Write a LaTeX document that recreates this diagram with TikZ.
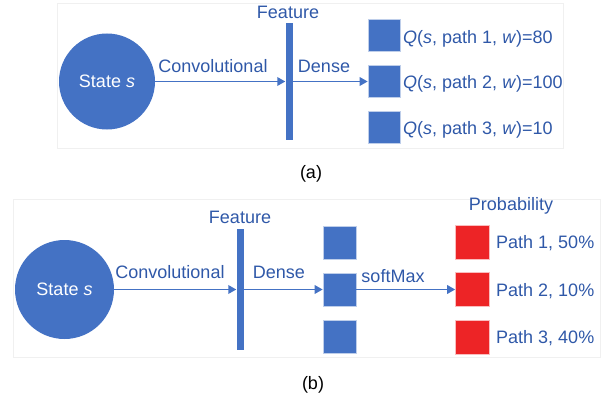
\documentclass[tikz,border=0pt]{standalone}
\usepackage{fontspec}
\setmainfont{Liberation Sans}
\usetikzlibrary{arrows.meta}

\definecolor{netblue}{RGB}{68,114,196}
\definecolor{txtblue}{RGB}{47,88,168}
\definecolor{probred}{RGB}{237,36,38}

\begin{document}
\begin{tikzpicture}[x=1pt, y=-1pt,
  lbl/.style={text=txtblue, font=\fontsize{18}{21}\selectfont, inner sep=0pt, anchor=base},
  lblw/.style={lbl, anchor=base west},
  statenode/.style={circle, fill=netblue, text=white, inner sep=0pt, font=\fontsize{18}{21}\selectfont},
  featbar/.style={rectangle, fill=netblue, inner sep=0pt, minimum width=7pt},
  unitbox/.style={rectangle, fill=netblue, draw=netblue!35, line width=0.6pt, inner sep=0pt},
  probbox/.style={rectangle, fill=probred, draw=probred!30, line width=0.6pt, inner sep=0pt},
  arr/.style={netblue, line width=1.8pt, -{Triangle[length=8pt, width=8.5pt]}},
  panel/.style={draw=black!6, line width=0.6pt}]

\useasboundingbox (0,0) rectangle (602,396);

% (a)
\draw[panel] (57,3) rectangle (563,148);

\node[statenode, minimum size=96pt] (sa) at (107,81.5) {State \textit{s}};
\node[featbar, minimum height=116pt] (fa) at (289,81.5) {};
\node[lbl] (fta) at (288,19) {Feature};

\node[unitbox, minimum size=32pt] (qa1) at (384,35.5) {};
\node[unitbox, minimum size=32pt] (qa2) at (384,81.5) {};
\node[unitbox, minimum size=32pt] (qa3) at (384,127.5) {};

\node[lblw] (la1) at (403,44) {\textit{Q}(\textit{s}, path 1, \textit{w})=80};
\node[lblw] (la2) at (403,88.5) {\textit{Q}(\textit{s}, path 2, \textit{w})=100};
\node[lblw] (la3) at (403,134.5) {\textit{Q}(\textit{s}, path 3, \textit{w})=10};

\draw[arr] (sa) -- (fa);
\draw[arr] (fa) -- (qa2);
\node[lbl] (ca) at (213,72) {Convolutional};
\node[lbl] (da) at (324,72) {Dense};

\node[lbl, text=black] (capa) at (311,178) {(a)};

% (b)
\draw[panel] (13,199) rectangle (600,357);

\node[statenode, minimum size=99pt] (sb) at (64.5,289.5) {State \textit{s}};
\node[featbar, minimum height=121pt] (fb) at (240,289.5) {};
\node[lbl] (ftb) at (240,223) {Feature};
\node[lbl] (pr) at (511,210) {Probability};

\node[unitbox, minimum size=33pt] (ub1) at (339.5,242.5) {};
\node[unitbox, minimum size=33pt] (ub2) at (339.5,289.5) {};
\node[unitbox, minimum size=33pt] (ub3) at (339.5,337) {};

\node[probbox, minimum size=34pt] (pb1) at (472.5,242.5) {};
\node[probbox, minimum size=34pt] (pb2) at (472.5,289.5) {};
\node[probbox, minimum size=34pt] (pb3) at (472.5,337) {};

\node[lblw] (lb1) at (496,248.5) {Path 1, 50\%};
\node[lblw] (lb2) at (496,296.5) {Path 2, 10\%};
\node[lblw] (lb3) at (496,343.5) {Path 3, 40\%};

\draw[arr] (sb) -- (fb);
\draw[arr] (fb) -- (ub2);
\draw[arr] (ub2) -- (pb2);
\node[lbl] (cb) at (170,278) {Convolutional};
\node[lbl] (db) at (279,278) {Dense};
\node[lbl] (smb) at (393,282) {softMax};

\node[lbl, text=black] (capb) at (313,389) {(b)};

\end{tikzpicture}
\end{document}
